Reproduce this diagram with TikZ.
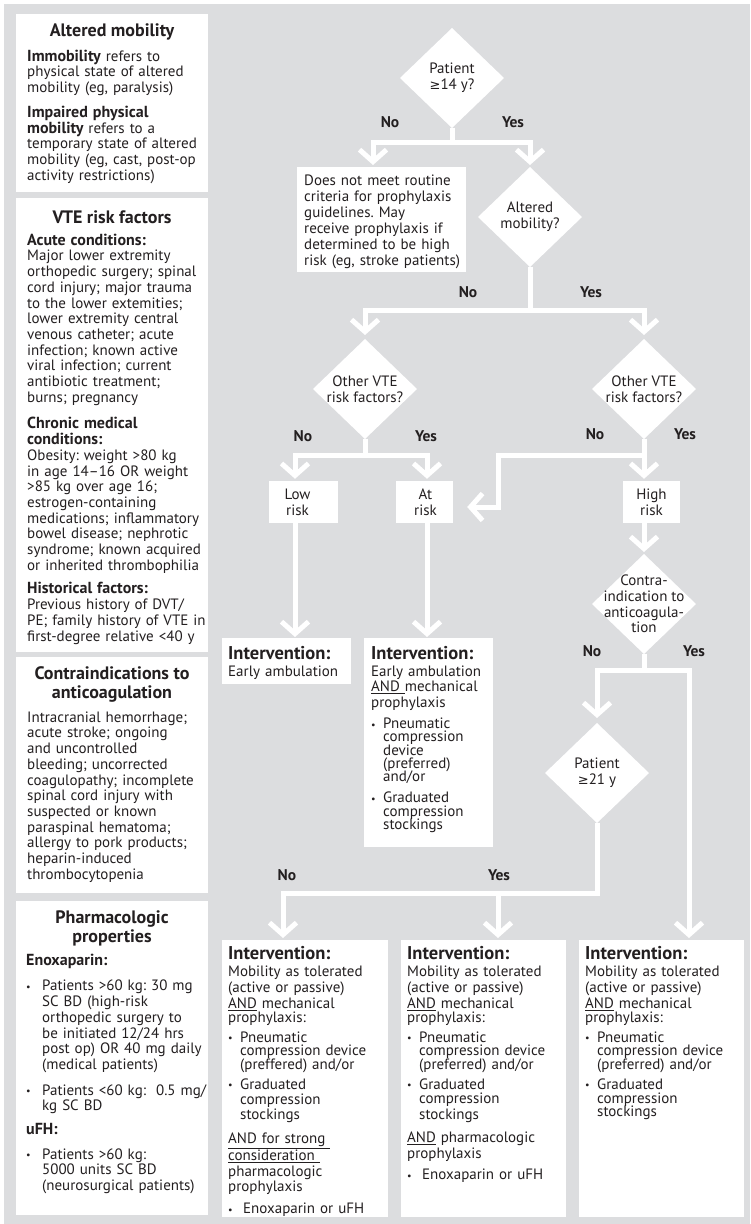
\documentclass[tikz,border=0pt]{standalone}
\usepackage{fontspec}
\setmainfont{PT Sans}
\newfontfamily\symf{DejaVu Sans}
\frenchspacing
\usetikzlibrary{arrows.meta,shapes.geometric}
\definecolor{bg}{HTML}{DCDDDF}
\definecolor{ink}{HTML}{231F20}
\newcommand{\bodyf}{\fontsize{15}{15.7}\selectfont}
\newcommand{\hdrf}{\fontsize{18}{19}\selectfont\bfseries}
\newcommand{\ihdrf}{\fontsize{18.5}{19}\selectfont\bfseries}
\newcommand{\sbf}[1]{{\fontsize{16}{15.7}\selectfont\bfseries #1}}
\newcommand{\labf}{\fontsize{15.5}{16}\selectfont\bfseries}
\newcommand{\geqs}{{\symf\fontsize{13}{15.7}\selectfont ≥}}
\newcommand{\bul}[1][12pt]{\makebox[#1][l]{\raisebox{0.5pt}{\fontsize{10}{10}\selectfont\textbullet}}}
\newcommand{\ind}[1][12pt]{\hspace*{#1}}
\newcommand{\fb}{\rule{0pt}{12pt}}
\newcommand{\fh}{\rule{0pt}{13.5pt}}
\tikzset{
  wbox/.style={fill=white, inner sep=0pt, outer sep=0pt, anchor=north west},
  txt/.style={anchor=north west, inner sep=0pt, text width=#1, align=left, font=\bodyf, text=ink},
  hdr/.style={font=\hdrf, text=ink, align=center, inner sep=0pt},
  dia/.style={diamond, fill=white, inner sep=0pt, outer sep=0pt, minimum width=104pt, minimum height=100pt},
  dtext/.style={font=\bodyf, text=ink, align=center, inner sep=0pt},
  lab/.style={font=\labf, text=ink, inner sep=0pt},
  flow/.style={draw=white, line width=5pt},
  arr/.style={flow, -{Straight Barb[length=12pt,width=27pt,sharp]}},
}
\begin{document}
\begin{tikzpicture}[x=1pt,y=-1pt]
\useasboundingbox (0,0) rectangle (750,1224);
\fill[white] (0,0) rectangle (750,1224);
\fill[bg] (4,4) rectangle (750,1224);

% ---------------- left column ----------------
\node[wbox, minimum width=192pt, minimum height=178pt] (b1) at (16,14) {};
\node[hdr] (h1) at (112,32) {Altered mobility};
\node[txt=200pt] (t1) at (27,49) {\fb\sbf{Immobility} refers to\\
physical state of altered\\
mobility (eg, paralysis)\\[9pt]
\sbf{Impaired physical}\\
\sbf{mobility} refers to a\\
temporary state of altered\\
mobility (eg, cast, post-op\\
activity restrictions)};

\node[wbox, minimum width=192pt, minimum height=454pt] (b2) at (16,198) {};
\node[hdr] (h2) at (112,217) {VTE risk factors};
\node[txt=200pt] (t2) at (27,233) {\fb\sbf{Acute conditions:}\\
Major lower extremity\\
orthopedic surgery; spinal\\
cord injury; major trauma\\
to the lower extemities;\\
lower extremity central\\
venous catheter; acute\\
infection; known active\\
viral infection; current\\
antibiotic treatment;\\
burns; pregnancy\\[11pt]
\sbf{Chronic medical}\\
\sbf{conditions:}\\
Obesity: weight >80 kg\\
in age 14--16 OR weight\\
>85 kg over age 16;\\
estrogen-containing\\
medications; inflammatory\\
bowel disease; nephrotic\\
syndrome; known acquired\\
or inherited thrombophilia\\[8pt]
\sbf{Historical factors:}\\
Previous history of DVT/\\
PE; family history of VTE in\\
first-degree relative <40 y};

\node[wbox, minimum width=192pt, minimum height=236pt] (b3) at (16,657) {};
\node[hdr] (h3) at (112,684) {Contraindications to\\anticoagulation};
\node[txt=200pt] (t3) at (27,710) {\fb Intracranial hemorrhage;\\
acute stroke; ongoing\\
and uncontrolled\\
bleeding; uncorrected\\
coagulopathy; incomplete\\
spinal cord injury with\\
suspected or known\\
paraspinal hematoma;\\
allergy to pork products;\\
heparin-induced\\
thrombocytopenia};

\node[wbox, minimum width=192pt, minimum height=314pt] (b4) at (16,901) {};
\node[hdr] (h4) at (112,928) {Pharmacologic\\properties};
\node[txt=200pt] (t4) at (26,953) {\fb\sbf{Enoxaparin:}\\[10pt]
\bul[16pt]Patients >60 kg: 30 mg\\
\ind[16pt]SC BD (high-risk\\
\ind[16pt]orthopedic surgery to\\
\ind[16pt]be initiated 12/24 hrs\\
\ind[16pt]post op) OR 40 mg daily\\
\ind[16pt](medical patients)\\[10pt]
\bul[16pt]Patients <60 kg:\ \ 0.5 mg/\\
\ind[16pt]kg SC BD\\[8pt]
\sbf{uFH:}\\[9pt]
\bul[16pt]Patients >60 kg:\\
\ind[16pt]5000 units SC BD\\
\ind[16pt](neurosurgical patients)};

% ---------------- flowchart ----------------
\node[dia, label={[dtext]center:{Patient\\\geqs14 y?}}] (d1) at (452,78) {};
\node[wbox, minimum width=169pt, minimum height=105pt] (nomeet) at (297,167) {};
\node[txt=170pt] (tnm) at (304,173) {\fb Does not meet routine\\[0.3pt]
criteria for prophylaxis\\[0.3pt]
guidelines. May\\[0.3pt]
receive prophylaxis if\\[0.3pt]
determined to be high\\[0.3pt]
risk (eg, stroke patients)};
\node[dia, label={[dtext]center:{Altered\\mobility?}}] (d2) at (530,217) {};
\node[dia, label={[dtext]center:{Other VTE\\risk factors?}}] (d3) at (365,389) {};
\node[dia, label={[dtext]center:{Other VTE\\risk factors?}}] (d4) at (644,389) {};

\node[fill=white, inner sep=0pt, minimum width=69pt, minimum height=42pt,
  label={[dtext, xshift=-6pt]center:{Low\\risk}}] (low) at (303.5,502) {};
\node[fill=white, inner sep=0pt, minimum width=57pt, minimum height=42pt,
  label={[dtext, xshift=1pt]center:{At\\risk}}] (atrisk) at (424.5,502) {};
\node[fill=white, inner sep=0pt, minimum width=57pt, minimum height=42pt,
  label={[dtext]center:{High\\risk}}] (high) at (651.5,502) {};

\node[dia, label={[dtext]center:{Contra-\\indication to\\anticoagula-\\tion}}] (d5) at (644,604) {};
\node[dia, label={[dtext]center:{Patient\\\geqs21 y}}] (d6) at (597,773) {};

\node[wbox, minimum width=129pt, minimum height=46pt] (lowint) at (222,638) {};
\node[txt=140pt] (tli) at (228,645.5) {\fh{\ihdrf Intervention:}\\[1.3pt]
Early ambulation};

\node[wbox, minimum width=129pt, minimum height=209pt] (atint) at (364,638) {};
\node[txt=140pt] (tai) at (371,645.5) {\fh{\ihdrf Intervention:}\\[1.3pt]
Early ambulation\\
\underline{AND }mechanical\\
prophylaxis\\[5.3pt]
\bul Pneumatic\\[-2.4pt]
\ind compression\\[-2.4pt]
\ind device\\[-2.4pt]
\ind (preferred)\\[-2.4pt]
\ind and/or\\[5.3pt]
\bul Graduated\\[-2.4pt]
\ind compression\\[-2.4pt]
\ind stockings};

\node[wbox, minimum width=166pt, minimum height=277pt] (boxA) at (222,940) {};
\node[txt=170pt] (tA) at (228,945.5) {\fh{\ihdrf Intervention:}\\[1.3pt]
Mobility as tolerated\\[0.3pt]
(active or passive)\\[0.3pt]
\underline{AND} mechanical\\[-1.2pt]
prophylaxis:\\[3.8pt]
\bul Pneumatic\\[-2pt]
\ind compression device\\[-2pt]
\ind (preffered) and/or\\[4pt]
\bul Graduated\\[-0.7pt]
\ind compression\\[-0.7pt]
\ind stockings\\[8.3pt]
\underline{AND for strong }\\[0.3pt]
\underline{consideration }\\
pharmacologic\\
prophylaxis\\[6pt]
\bul[15pt]Enoxaparin or uFH};

\node[wbox, minimum width=165pt, minimum height=277pt] (boxB) at (401,940) {};
\node[txt=170pt] (tB) at (407,945.5) {\fh{\ihdrf Intervention:}\\[1.3pt]
Mobility as tolerated\\[0.3pt]
(active or passive)\\[0.3pt]
\underline{AND} mechanical\\[-1.2pt]
prophylaxis:\\[3.8pt]
\bul Pneumatic\\[-2pt]
\ind compression device\\[-2pt]
\ind (preferred) and/or\\[4pt]
\bul Graduated\\[-1.2pt]
\ind compression\\[0.3pt]
\ind stockings\\[7.3pt]
\underline{AND} pharmacologic\\[0.3pt]
prophylaxis\\[5.3pt]
\bul[15pt]Enoxaparin or uFH};

\node[wbox, minimum width=165pt, minimum height=277pt] (boxC) at (579,940) {};
\node[txt=170pt] (tC) at (585,945.5) {\fh{\ihdrf Intervention:}\\[1.3pt]
Mobility as tolerated\\[0.3pt]
(active or passive)\\[0.3pt]
\underline{AND} mechanical\\[-1.2pt]
prophylaxis:\\[3.8pt]
\bul Pneumatic\\[-2pt]
\ind compression device\\[-2pt]
\ind (preferred) and/or\\[4pt]
\bul Graduated\\[-1.2pt]
\ind compression\\[-2.7pt]
\ind stockings};

% ---------------- connectors ----------------
\draw[arr] (d1.south) -- ++(0,14) -| ([xshift=-8.5pt,yshift=2pt]nomeet.north);
\draw[arr] (d1.south) -- ++(0,14) -| ([yshift=2pt]d2.north);
\draw[arr] (d2.south) -- ++(0,43) -| ([yshift=4pt]d3.north);
\draw[arr] (d2.south) -- ++(0,43) -| ([yshift=4pt]d4.north);
\draw[arr] (d3.south) -- ++(0,16) -| ([xshift=-8.5pt,yshift=2pt]low.north);
\draw[arr] (d3.south) -- ++(0,16) -| ([xshift=2.5pt,yshift=2pt]atrisk.north);
\draw[arr] (d4.south) -- ([xshift=-7.5pt,yshift=2pt]high.north);
\draw[arr] (d4.south) -- ++(0,16) -| ++(-146,52) -- ([xshift=14pt,yshift=-5pt]atrisk.east);
\draw[arr] ([xshift=-8.5pt]low.south) -- ([xshift=8.5pt,yshift=1pt]lowint.north);
\draw[arr] ([xshift=2.5pt]atrisk.south) -- ([xshift=-1.5pt,yshift=1pt]atint.north);
\draw[arr] ([xshift=-7.5pt]high.south) -- ([yshift=2pt]d5.north);
\draw[arr] (d5.south) -- ++(0,16) -| ([yshift=5pt]d6.north);
\draw[arr] (d5.south) -- ++(0,16) -| ([xshift=27.5pt,yshift=2pt]boxC.north);
\draw[arr] (d6.south) -- ++(0,70) -| ([xshift=-22pt,yshift=2pt]boxA.north);
\draw[arr] (d6.south) -- ++(0,70) -| ([xshift=14.5pt,yshift=2pt]boxB.north);

% ---------------- branch labels ----------------
\node[lab] (n1) at (390,122) {No};
\node[lab] (y1) at (513,122) {Yes};
\node[lab] (n2) at (468,292) {No};
\node[lab] (y2) at (591,292) {Yes};
\node[lab] (n3) at (303,436) {No};
\node[lab] (y3) at (426,436) {Yes};
\node[lab] (n4) at (595,434) {No};
\node[lab] (y4) at (685,434) {Yes};
\node[lab] (n5) at (592,651) {No};
\node[lab] (y5) at (694,651) {Yes};
\node[lab] (n6) at (287,875) {No};
\node[lab] (y6) at (499,875) {Yes};
\end{tikzpicture}
\end{document}
